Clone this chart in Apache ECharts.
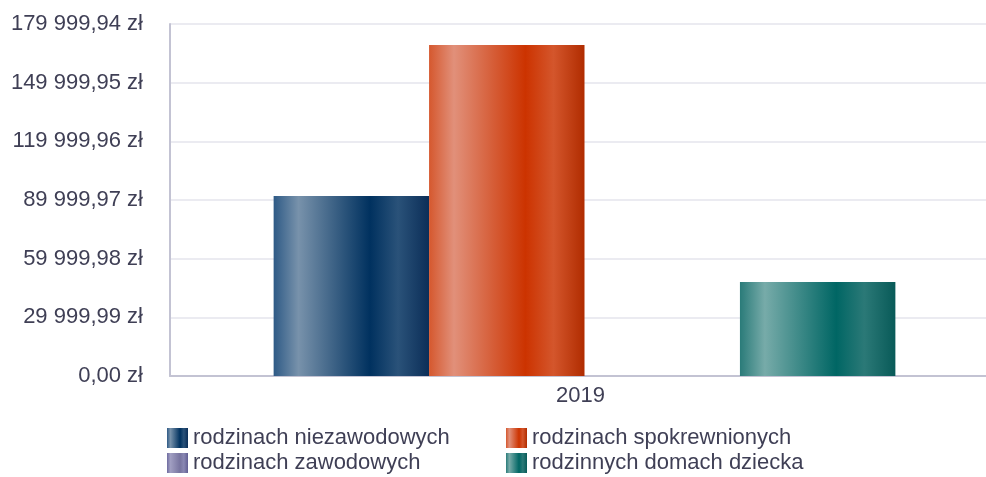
<!DOCTYPE html>
<html>
<head>
<meta charset="utf-8">
<script src="https://cdn.jsdelivr.net/npm/echarts@6/dist/echarts.min.js"></script>
<style>
html,body{margin:0;padding:0;background:#fff;}
#chart{width:986px;height:477px;}
</style>
</head>
<body>
<div id="chart"></div>
<script>
const categories = ['2019'];
const seriesNames = ['rodzinach niezawodowych', 'rodzinach spokrewnionych', 'rodzinach zawodowych', 'rodzinnych domach dziecka'];
const niezawodowe = [92000];
const spokrewnione = [169200];
const zawodowe = [0];
const domyDziecka = [48100];
const yMin = 0;
const yMax = 179999.94;
const yInterval = 29999.99;

const FONT = "'Liberation Sans', Arial, sans-serif";
const TEXT = '#3f3f55';

function grad(edge, light, base, mid, dark) {
  return new echarts.graphic.LinearGradient(0, 0, 1, 0, [
    {offset: 0, color: edge},
    {offset: 0.16, color: light},
    {offset: 0.62, color: base},
    {offset: 0.8, color: mid},
    {offset: 1, color: dark}
  ]);
}
const colors = [
  grad('#2e5a86', '#7892ab', '#00315f', '#2a5279', '#0b2e58'),
  grad('#d5582e', '#e1907a', '#cc3300', '#d4562c', '#b02c00'),
  grad('#6e6ba0', '#a19fc2', '#77749f', '#8a88b3', '#615e92'),
  grad('#2a7b79', '#77aba9', '#006664', '#2b7977', '#085a58')
];

function fmt(v) {
  const s = v.toFixed(2);
  let [i, d] = s.split('.');
  i = i.replace(/\B(?=(\d{3})+(?!\d))/g, ' ');
  return i + ',' + d + ' zł';
}

// legend slots: [seriesIndex, left, top]
const legendSlots = [[0, 167, 427], [2, 167, 452], [1, 506, 427], [3, 506, 452]];

const dataArr = [niezawodowe, spokrewnione, zawodowe, domyDziecka];
const chart = echarts.init(document.getElementById('chart'));
chart.setOption({
  animation: false,
  textStyle: {fontFamily: FONT},
  grid: {left: 170, top: 24, width: 829, height: 352, containLabel: false, outerBoundsMode: 'none'},
  legend: legendSlots.map(([si, l, t]) => ({
    data: [seriesNames[si]],
    orient: 'horizontal', left: l, top: t, padding: 0,
    itemWidth: 21, itemHeight: 20, itemGap: 0, icon: 'rect',
    textStyle: {fontFamily: FONT, fontSize: 22, color: TEXT},
    selectedMode: false
  })),
  xAxis: {
    type: 'category',
    data: categories,
    axisTick: {show: false},
    axisLine: {lineStyle: {color: '#c3c3d3', width: 2}},
    axisLabel: {fontFamily: FONT, fontSize: 22, color: TEXT, margin: 9, padding: [0, 8, 0, 0]}
  },
  yAxis: {
    type: 'value',
    min: yMin, max: yMax, interval: yInterval,
    axisLine: {show: true, lineStyle: {color: '#c3c3d3', width: 2}},
    axisTick: {show: false},
    splitLine: {lineStyle: {color: '#ebebf1', width: 2}},
    axisLabel: {fontFamily: FONT, fontSize: 22, color: TEXT, margin: 27, formatter: fmt}
  },
  series: seriesNames.map((n, i) => ({
    name: n,
    type: 'bar',
    data: dataArr[i],
    barGap: '0%',
    barCategoryGap: '25%',
    itemStyle: {color: colors[i]}
  }))
});
</script>
</body>
</html>
